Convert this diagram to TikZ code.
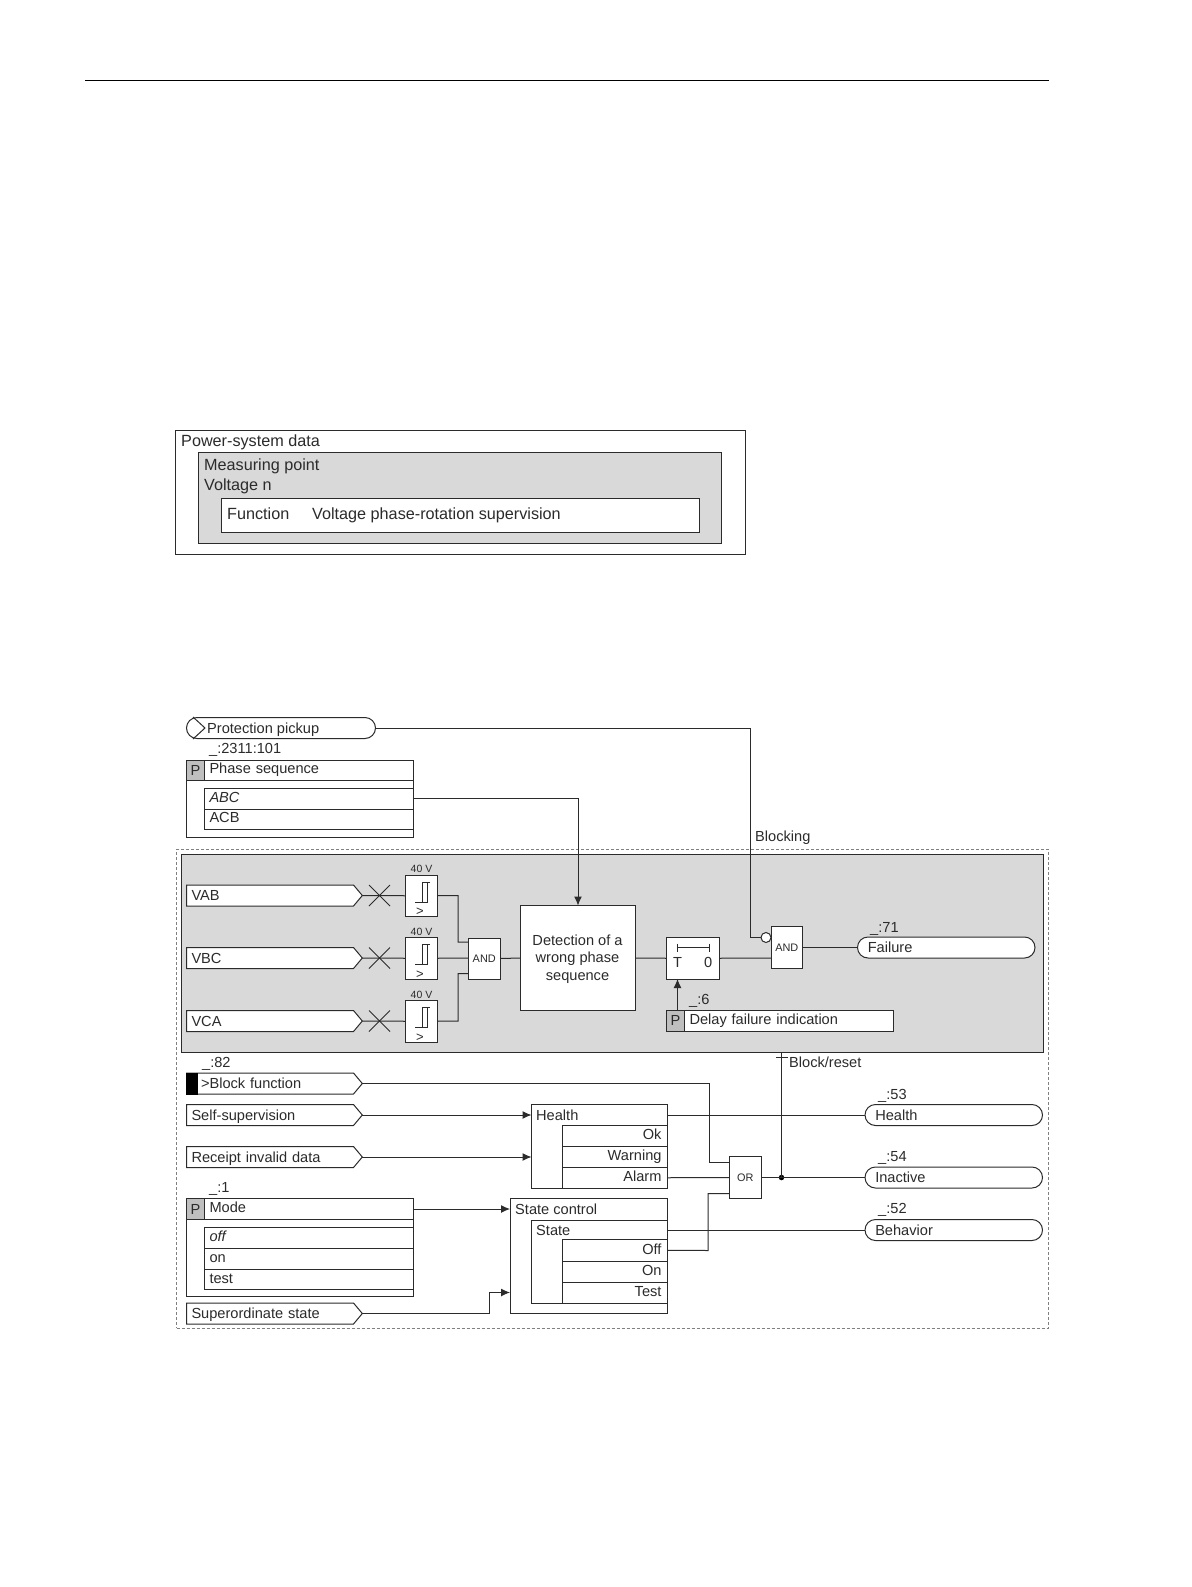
\documentclass[tikz,border=0pt]{standalone}
\usepackage{fontspec}
\setmainfont{Liberation Sans}
\usetikzlibrary{shapes.symbols,shapes.misc,arrows.meta}
\definecolor{linecol}{HTML}{2B2B2B}
\definecolor{areagray}{HTML}{D9D9D9}
\definecolor{pgray}{HTML}{BFBFBF}
\tikzset{
	lbl/.style={anchor=west,inner sep=0pt,text height=10.5pt,text depth=0pt,text=linecol,font=\fontsize{14.6}{17.5}\selectfont},
	biglbl/.style={lbl,font=\fontsize{16.2}{18}\selectfont},
	tinylbl/.style={anchor=center,inner sep=0pt,text=linecol,font=\fontsize{10.5}{12}\selectfont},
	frame/.style={draw=linecol,line width=1pt,fill=white,anchor=north west,inner sep=0pt,outer sep=0pt},
	sigin/.style={signal,signal to=east,signal pointer angle=100,draw=linecol,line width=1pt,fill=white,anchor=west,
		inner ysep=0pt,inner xsep=0pt,outer sep=0pt,minimum height=21pt,minimum width=167pt,text width=167pt,align=left,
		text height=10.5pt,text depth=0pt,text=linecol,font=\fontsize{14.6}{17.5}\selectfont},
	sigout/.style={rounded rectangle,draw=linecol,line width=1pt,fill=white,anchor=west,
		inner sep=0pt,outer sep=0pt,minimum height=21pt,minimum width=177.5pt,text width=157pt,align=left,
		text height=10.5pt,text depth=0pt,text=linecol,font=\fontsize{14.6}{17.5}\selectfont},
	rowl/.style={frame,minimum height=#1,text height=10.5pt,text depth=3pt,inner xsep=5pt,text width=199pt,align=left,
		text=linecol,font=\fontsize{14.6}{17.5}\selectfont},
	rowr/.style={frame,minimum height=#1,text height=10.5pt,text depth=3pt,inner xsep=5.5pt,text width=94pt,align=right,
		text=linecol,font=\fontsize{14.6}{17.5}\selectfont},
	pbox/.style={frame,fill=pgray,minimum width=18pt,minimum height=#1,text=linecol,font=\fontsize{14.6}{17.5}\selectfont},
	gate/.style={frame,minimum width=31.5pt,minimum height=42pt,text=linecol,font=\fontsize{10.9}{12}\selectfont},
	limit/.style={frame,minimum width=31.5pt,minimum height=41.5pt},
	wire/.style={draw=linecol,line width=1pt},
	arrowwire/.style={wire,-{Latex[length=9pt,width=8pt]}},
}
\begin{document}
\begin{tikzpicture}[x=1pt,y=-1pt]
	\useasboundingbox (0,0) rectangle (1191,1587);
	\fill[white] (0,0) rectangle (1191,1587);
	\draw[black,line width=1pt] (85,80) -- (1049,80);

	% power-system data
	\node (powerdata) [frame,minimum width=570pt,minimum height=124.5pt] at (175,430) {};
	\node (measpoint) [frame,fill=areagray,minimum width=523pt,minimum height=91pt] at (198.5,452.5) {};
	\node (funcbox) [frame,minimum width=477.5pt,minimum height=34pt] at (221.5,498) {};
	\node (powertxt) [biglbl] at (181,441.5) {Power-system data};
	\node (meastxt) [biglbl] at (204,465.5) {Measuring point};
	\node (volttxt) [biglbl] at (204,485) {Voltage n};
	\node (functxt) [biglbl] at (227,514.5) {Function};
	\node (rottxt) [biglbl] at (312,514.5) {Voltage phase-rotation supervision};

	% function area
	\node (funcarea) [frame,fill=none,draw=gray,densely dashed,line width=0.7pt,minimum width=871.5pt,minimum height=479pt] at (176.5,849) {};
	\node (grayarea) [frame,fill=areagray,minimum width=861.5pt,minimum height=198.5pt] at (181.5,854) {};

	% inputs above the area
	\node (pickup) [sigout,minimum width=189pt,text width=168pt] at (186.5,728) {\hspace*{0pt}};
	\draw[wire] (193,717) -- (205,728) -- (193,739);
	\node (pickuptxt) [lbl] at (207,728) {Protection pickup};
	\node (seqno) [lbl] at (209,748) {\_:2311:101};
	\node (seqframe) [frame,minimum width=227pt,minimum height=77pt] at (186.5,760) {};
	\node (seqp) [pbox=20pt] at (186.5,760) {P};
	\node (seqhead) [rowl=20pt] at (204.5,760) {Phase sequence};
	\node (seqabc) [rowl=21pt] at (204.5,788) {\itshape ABC};
	\node (seqacb) [rowl=20pt] at (204.5,809) {ACB};

	% measuring chain
	\node (vab) [sigin] at (186.5,895.5) {\hspace*{5pt}VAB};
	\node (vbc) [sigin] at (186.5,958) {\hspace*{5pt}VBC};
	\node (vca) [sigin] at (186.5,1021) {\hspace*{5pt}VCA};
	\foreach \name/\ypos in {a/895.5,b/958,c/1021}{
		\draw[wire] (369,\ypos-10.5) -- (390,\ypos+10.5) (369,\ypos+10.5) -- (390,\ypos-10.5);
		\node (limit\name) [limit] at (405.5,\ypos-20.5) {};
		\node (volt\name) [tinylbl] at (421.5,\ypos-26.5) {40 V};
		\node (more\name) [lbl,font=\fontsize{13}{14}\selectfont] at (416,\ypos+15) {>};
		\draw[wire] (415,\ypos+6.5) -- (427,\ypos+6.5) -- (427,\ypos-13.5) (422,\ypos+6.5) -- (422,\ypos-13.5) -- (430,\ypos-13.5);
	}
	\node (andone) [gate,minimum height=41pt] at (468.5,938) {AND};
	\node (detect) [frame,minimum width=114.5pt,minimum height=105pt] at (520.5,905.5) {};
	\node (detecttxt) [align=center,inner sep=0pt,text=linecol,font=\fontsize{14.6}{17.5}\selectfont] at (577.5,959) {Detection of a\\wrong phase\\sequence};
	\node (timer) [frame,minimum width=52.5pt,minimum height=41.5pt] at (666.5,937.5) {};
	\draw[wire] (677,943.5) -- (677,951.5) (677,947.5) -- (709,947.5) (709,943.5) -- (709,951.5);
	\node (timert) [lbl] at (673,962.5) {T};
	\node (timerz) [lbl] at (704,962.5) {0};
	\node (andtwo) [gate] at (771,926.5) {AND};
	\node (notdot) [circle,draw=linecol,line width=1pt,fill=white,inner sep=0pt,outer sep=0pt,minimum size=10pt] at (766,937.5) {};
	\node (failure) [sigout] at (857.5,947.5) {Failure};
	\node (failno) [lbl] at (870,927) {\_:71};
	\node (delayp) [pbox=20.5pt] at (666.5,1010.5) {P};
	\node (delay) [rowl=20.5pt] at (684.5,1010.5) {Delay failure indication};
	\node (delayno) [lbl] at (689,999.5) {\_:6};
	\node (blocktxt) [lbl] at (755,836.5) {Blocking};
	\node (resettxt) [lbl] at (789,1062) {Block/reset};

	% lower inputs
	\node (blockno) [lbl] at (202,1062) {\_:82};
	\node (blockin) [sigin] at (186.5,1083.5) {\hspace*{14.5pt}>Block function};
	\node (blockbar) [frame,fill=black,draw=black,minimum width=11pt,minimum height=21pt,anchor=west] at (186.5,1083.5) {};
	\node (selfsup) [sigin] at (186.5,1115) {\hspace*{5pt}Self-supervision};
	\node (receipt) [sigin] at (186.5,1157) {\hspace*{5pt}Receipt invalid data};
	\node (superord) [sigin] at (186.5,1313.5) {\hspace*{5pt}Superordinate state};
	\node (modeno) [lbl] at (209,1187) {\_:1};
	\node (modeframe) [frame,minimum width=227pt,minimum height=98pt] at (186.5,1198.5) {};
	\node (modep) [pbox=21pt] at (186.5,1198.5) {P};
	\node (modehead) [rowl=21pt] at (204.5,1198.5) {Mode};
	\node (modeoff) [rowl=21pt] at (204.5,1227) {\itshape off};
	\node (modeon) [rowl=21pt] at (204.5,1248) {on};
	\node (modetest) [rowl=20.5pt] at (204.5,1269) {test};

	% health and state
	\node (health) [frame,minimum width=135.5pt,minimum height=84pt] at (531.5,1104) {};
	\node (healthtxt) [lbl] at (536,1115) {Health};
	\node (hok) [rowr=21pt] at (562,1125.5) {Ok};
	\node (hwarn) [rowr=21pt] at (562,1146.5) {Warning};
	\node (halarm) [rowr=20.5pt] at (562,1167.5) {Alarm};
	\node (statectl) [frame,minimum width=157pt,minimum height=115pt] at (510,1198.5) {};
	\node (statectltxt) [lbl] at (515,1209) {State control};
	\node (state) [frame,minimum width=135.5pt,minimum height=83pt] at (531.5,1220) {};
	\node (statetxt) [lbl] at (536,1230) {State};
	\node (soff) [rowr=21.5pt] at (562,1239.5) {Off};
	\node (son) [rowr=21pt] at (562,1261) {On};
	\node (stest) [rowr=21pt] at (562,1282) {Test};

	% outputs
	\node (orgate) [gate] at (729.5,1156.5) {OR};
	\node (dotout) [circle,fill=black,inner sep=0pt,minimum size=5.5pt] at (781.5,1177.5) {};
	\node (healthno) [lbl] at (878,1094.5) {\_:53};
	\node (healthout) [sigout] at (865,1115) {Health};
	\node (inactno) [lbl] at (878,1156.5) {\_:54};
	\node (inactout) [sigout] at (865,1177.5) {Inactive};
	\node (behavno) [lbl] at (878,1208.5) {\_:52};
	\node (behavout) [sigout] at (865,1230) {Behavior};

	% connectors
	\draw[wire] (pickup.east) -- (750,728) -- (750,937.5) -- (notdot.west);
	\draw[arrowwire] (seqabc.east) -- (578,798.5) -- (578,905.5);
	\foreach \src/\name in {vab/a,vbc/b,vca/c}{
		\draw[wire] (\src.east) -- (limit\name.west);
	}
	\draw[wire] (limita.east) -- (458,895.5) -- (458,942) -- (468.5,942);
	\draw[wire] (limitb.east) -- (468.5,958);
	\draw[wire] (limitc.east) -- (458,1021) -- (458,973.5) -- (468.5,973.5);
	\draw[wire] (andone.east) -- (detect.west);
	\draw[wire] (detect.east) -- (timer.west);
	\draw[wire] (timer.east) -- (771,958);
	\draw[wire] (802.5,947.5) -- (failure.west);
	\draw[arrowwire] (677.5,1010.5) -- (677.5,979);
	\draw[wire] (776,1057) -- (788,1057);
	\draw[wire] (781.5,1052.5) -- (dotout.center);
	\draw[wire] (blockin.east) -- (709,1083.5) -- (709,1162) -- (729.5,1162);
	\draw[arrowwire] (selfsup.east) -- (531.5,1115);
	\draw[arrowwire] (receipt.east) -- (531.5,1157);
	\draw[wire] (667,1115) -- (healthout.west);
	\draw[wire] (halarm.east) -- (orgate.west);
	\draw[wire] (orgate.east) -- (inactout.west);
	\draw[arrowwire] (413.5,1209) -- (510,1209);
	\draw[arrowwire] (superord.east) -- (489.5,1313.5) -- (489.5,1292.5) -- (510,1292.5);
	\draw[wire] (soff.east) -- (708,1250.5) -- (708,1193.5) -- (729.5,1193.5);
	\draw[wire] (667,1230) -- (behavout.west);
\end{tikzpicture}
\end{document}
